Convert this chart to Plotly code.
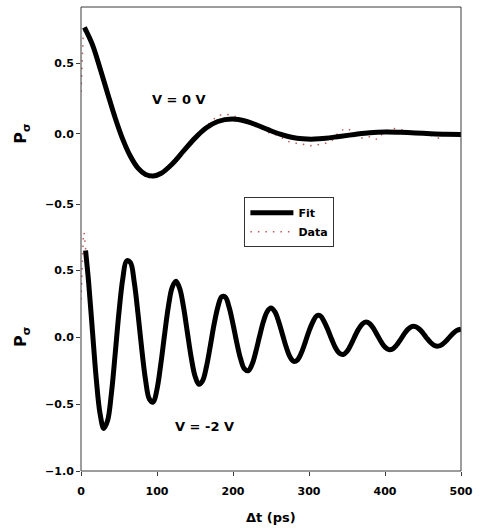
import plotly.graph_objects as go

# ---------------- data ----------------
# Top panel, V = 0 V
top_fit_t = [4.5, 15, 25, 35, 45, 55, 65, 75, 85, 95, 105, 120, 135, 150, 165, 180,
             199, 217, 232, 247, 262, 277, 292, 307, 322, 340, 360, 380, 400, 420,
             440, 460, 480, 500]
top_fit_v = [0.755, 0.633, 0.466, 0.287, 0.113, -0.039, -0.159, -0.243, -0.288, -0.299,
             -0.281, -0.213, -0.121, -0.030, 0.043, 0.088, 0.105, 0.090, 0.061, 0.028,
             -0.002, -0.024, -0.035, -0.037, -0.031, -0.018, -0.004, 0.008, 0.013, 0.011,
             0.007, 0.001, -0.003, -0.004]

top_data_t = [0, 1, 2, 3, 5] + list(range(10, 501, 10))
top_data_v = [0.30, 0.45, 0.60, 0.71, 0.74,
              0.70, 0.55, 0.37, 0.20, 0.04, -0.10, -0.21, -0.27, -0.31, -0.30,
              -0.27, -0.22, -0.15, -0.08, -0.02, 0.03, 0.08, 0.13, 0.14, 0.13,
              0.11, 0.08, 0.06, 0.03, 0.00, -0.01, -0.05, -0.065, -0.07, -0.085,
              -0.075, -0.07, -0.05, 0.02, 0.04, 0.01, -0.03, -0.02, -0.04, 0.02,
              0.04, 0.03, 0.02, 0.01, 0.00, -0.01, -0.03, 0.00, -0.01, 0.00]

# Bottom panel, V = -2 V
bot_fit_t = [6] + list(range(10, 501, 5))
bot_fit_v = [0.645, 0.411, 0.049, -0.307, -0.570, -0.682, -0.624, -0.421, -0.124, 0.187,
             0.436, 0.568, 0.556, 0.411, 0.174, -0.093, -0.323, -0.464, -0.486, -0.390,
             -0.203, 0.020, 0.229, 0.371, 0.417, 0.360, 0.220, 0.033, -0.152, -0.291,
             -0.353, -0.326, -0.223, -0.071, 0.091, 0.222, 0.300, 0.297, 0.220, 0.096,
             -0.043, -0.163, -0.238, -0.252, -0.205, -0.110, 0.006, 0.115, 0.190, 0.216,
             0.189, 0.117, 0.021, -0.075, -0.148, -0.182, -0.170, -0.118, -0.040, 0.044,
             0.112, 0.158, 0.158, 0.114, 0.052, -0.019, -0.082, -0.122, -0.131, -0.108,
             -0.059, 0.001, 0.057, 0.097, 0.112, 0.099, 0.062, 0.013, -0.037, -0.076,
             -0.094, -0.089, -0.063, -0.023, 0.021, 0.057, 0.078, 0.078, 0.060, 0.029,
             -0.009, -0.041, -0.063, -0.068, -0.056, -0.032, -0.001, 0.029, 0.050, 0.058]

bot_data_t = [0, 1, 2, 3, 4] + list(range(5, 501, 5))
bot_data_v = [0.28, 0.45, 0.62, 0.74, 0.78,
              0.72, 0.43, 0.07, -0.29, -0.58, -0.70, -0.61, -0.43, -0.11, 0.17,
              0.45, 0.58, 0.54, 0.42, 0.16, -0.08, -0.33, -0.48, -0.47, -0.40,
              -0.19, 0.01, 0.24, 0.36, 0.43, 0.35, 0.23, 0.02, -0.16, -0.28,
              -0.36, -0.32, -0.23, -0.06, 0.08, 0.23, 0.31, 0.28, 0.22, 0.09,
              -0.05, -0.15, -0.25, -0.24, -0.21, -0.10, 0.00, 0.12, 0.18, 0.23,
              0.18, 0.12, 0.01, -0.07, -0.16, -0.17, -0.18, -0.11, -0.05, 0.05,
              0.10, 0.16, 0.14, 0.12, 0.04, -0.02, -0.09, -0.11, -0.14, -0.10,
              -0.07, 0.01, 0.05, 0.10, 0.11, 0.09, 0.07, 0.00, -0.04, -0.08,
              -0.09, -0.10, -0.05, -0.03, 0.03, 0.05, 0.08, 0.07, 0.06, 0.03,
              -0.02, -0.04, -0.07, -0.06, -0.06, -0.03, 0.01, 0.03, 0.05, 0.06]

x_ticks = [0, 100, 200, 300, 400, 500]
top_y_ticks = [-0.5, 0.0, 0.5]
bot_y_ticks = [-1.0, -0.5, 0.0, 0.5]

# ---------------- styles ----------------
FONT = "DejaVu Sans"
DATA_COLOR = "#c05a5a"
FIT_COLOR = "black"
AXCOL = "#3a3a3a"
DATA_DASH = "1.5px,6px"

fig = go.Figure()

# Top panel
fig.add_trace(go.Scatter(x=top_data_t, y=top_data_v, mode="lines", name="Data",
                         line=dict(color=DATA_COLOR, width=1.5, dash=DATA_DASH),
                         xaxis="x", yaxis="y2", showlegend=False))
fig.add_trace(go.Scatter(x=top_fit_t, y=top_fit_v, mode="lines", name="Fit",
                         line=dict(color=FIT_COLOR, width=5, shape="spline"),
                         xaxis="x", yaxis="y2", showlegend=True, legendrank=1))
# Bottom panel
fig.add_trace(go.Scatter(x=bot_data_t, y=bot_data_v, mode="lines", name="Data",
                         line=dict(color=DATA_COLOR, width=1.5, dash=DATA_DASH),
                         xaxis="x", yaxis="y", showlegend=True, legendrank=2))
fig.add_trace(go.Scatter(x=bot_fit_t, y=bot_fit_v, mode="lines", name="Fit",
                         line=dict(color=FIT_COLOR, width=5, shape="spline"),
                         xaxis="x", yaxis="y", showlegend=False))

tickfont = dict(family=FONT, size=11, color="black", weight="bold")
big = dict(family=FONT, size=13, color="black", weight="bold")
ylab = dict(family=FONT, size=16, color="black", weight="bold")

fig.update_layout(
    width=480, height=529,
    margin=dict(l=81, r=13, t=7, b=58),
    paper_bgcolor="white", plot_bgcolor="white",
    xaxis=dict(domain=[0, 1], range=[0, 500], tickvals=x_ticks, ticks="outside",
               ticklen=4, tickcolor=AXCOL, tickfont=tickfont, showgrid=False,
               zeroline=False, showline=False, anchor="y", ticklabelstandoff=6),
    yaxis=dict(domain=[0, 0.5198], range=[-1.0, 0.8], tickvals=bot_y_ticks,
               tickformat=".1f", ticks="outside", ticklen=4, tickcolor=AXCOL,
               tickfont=tickfont, showgrid=False, zeroline=False, showline=False,
               anchor="x"),
    yaxis2=dict(domain=[0.5442, 1], range=[-0.6, 0.9], tickvals=top_y_ticks,
                tickformat=".1f", ticks="outside", ticklen=4, tickcolor=AXCOL,
                tickfont=tickfont, showgrid=False, zeroline=False, showline=False,
                anchor="x"),
    legend=dict(x=0.430, y=0.59, xanchor="left", yanchor="top",
                bordercolor="#333333", borderwidth=1, bgcolor="white",
                font=dict(family=FONT, size=11, color="black", weight="bold"),
                itemwidth=43, tracegroupgap=0),
    shapes=[dict(type="rect", xref="paper", yref="paper", x0=0, x1=1, y0=0, y1=1,
                 line=dict(color=AXCOL, width=1), layer="above")],
    annotations=[
        dict(text="V = 0 V", x=0.258, y=0.800, xref="paper", yref="paper",
             xanchor="center", yanchor="middle", showarrow=False, font=big),
        dict(text="V = -2 V", x=0.326, y=0.095, xref="paper", yref="paper",
             xanchor="center", yanchor="middle", showarrow=False, font=big),
        dict(text="P<sub>σ</sub>", x=-0.155, y=0.727, xref="paper", yref="paper",
             xanchor="center", yanchor="middle", textangle=-90, showarrow=False,
             font=ylab),
        dict(text="P<sub>σ</sub>", x=-0.155, y=0.289, xref="paper", yref="paper",
             xanchor="center", yanchor="middle", textangle=-90, showarrow=False,
             font=ylab),
        dict(text="Δt (ps)", x=0.5, y=-0.1, xref="paper", yref="paper",
             xanchor="center", yanchor="middle", showarrow=False, font=big),
    ],
)

fig.write_html("out.html")
